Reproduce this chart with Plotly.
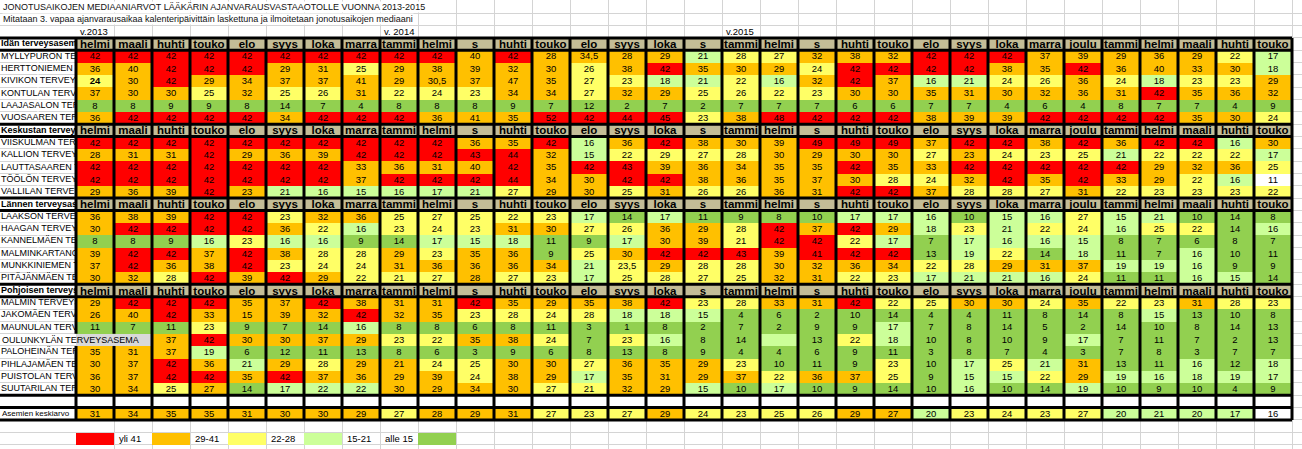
import plotly.graph_objects as go

# ---- data ----------------------------------------------------------------

TITLE = "JONOTUSAIKOJEN MEDIAANIARVOT LÄÄKÄRIN AJANVARAUSVASTAAOTOLLE VUONNA 2013-2015"
SUBTITLE = ("Mitataan 3. vapaa ajanvarausaikaa kalenteripäivittäin laskettuna "
            "ja ilmoitetaan jonotusaikojen mediaani")

MONTHS = ["helmi", "maali", "huhti", "touko", "elo", "syys", "loka", "marra",
          "tammi", "helmi", "s", "huhti", "touko", "elo", "syys", "loka", "s",
          "tammi", "helmi", "s", "huhti", "touko", "elo", "syys", "loka", "marra",
          "joulu", "tammi", "helmi", "maali", "huhti", "touko"]
YEAR_LABELS = ["v.2013", "v. 2014", "v.2015"]
YEAR_START_COLS = [0, 8, 17]

IDA_NAME = "Idän terveysasemat"
IDA_STATIONS = ["MYLLYPURON TERVEYSASEMA", "HERTTONIEMEN TERVEYSASEMA",
                "KIVIKON TERVEYSASEMA", "KONTULAN TERVEYSASEMA",
                "LAAJASALON TERVEYSASEMA", "VUOSAAREN TERVEYSASEMA"]
IDA_VALUES = [
    [42, 42, 42, 42, 42, 42, 42, 42, 42, 42, 40, 42, 28, 34.5, 28, 29, 21, 28, 27, 32, 38,
     32, 42, 42, 42, 37, 39, 29, 36, 29, 22, 17],
    [36, 40, 42, 42, 42, 29, 31, 25, 29, 38, 39, 32, 30, 26, 38, 42, 35, 30, 29, 24, 42,
     42, 42, 42, 38, 35, 42, 36, 40, 33, 30, 18],
    [24, 30, 42, 29, 34, 37, 37, 41, 29, 30.5, 37, 47, 35, 27, 23, 18, 21, 22, 16, 32, 42,
     37, 16, 21, 24, 26, 36, 24, 18, 23, 23, 29],
    [37, 30, 30, 25, 32, 25, 26, 31, 22, 24, 23, 34, 34, 27, 32, 29, 25, 26, 22, 23, 30,
     30, 35, 31, 30, 32, 36, 31, 42, 35, 36, 32],
    [8, 8, 9, 9, 8, 14, 7, 4, 8, 8, 8, 9, 7, 12, 2, 7, 2, 7, 7, 7, 6,
     6, 7, 7, 4, 6, 4, 8, 7, 7, 4, 9],
    [36, 42, 42, 42, 42, 34, 42, 42, 42, 36, 41, 35, 52, 42, 44, 45, 23, 38, 48, 42, 42,
     42, 38, 39, 39, 42, 42, 42, 42, 35, 30, 24],
]

KESKUSTA_NAME = "Keskustan terveysasemat"
KESKUSTA_STATIONS = ["VIISKULMAN TERVEYSASEMA", "KALLION TERVEYSASEMA",
                     "LAUTTASAAREN TERVEYSASEMA", "TÖÖLÖN TERVEYSASEMA",
                     "VALLILAN TERVEYSASEMA"]
KESKUSTA_VALUES = [
    [42, 42, 42, 42, 42, 42, 42, 42, 42, 42, 36, 35, 42, 16, 36, 42, 38, 30, 39, 49, 49,
     49, 37, 42, 42, 38, 42, 36, 42, 42, 16, 30],
    [28, 31, 31, 42, 29, 36, 39, 42, 42, 42, 43, 44, 32, 15, 22, 29, 27, 28, 30, 29, 30,
     30, 27, 23, 24, 23, 25, 21, 22, 22, 22, 17],
    [42, 42, 42, 42, 42, 42, 42, 33, 36, 31, 40, 42, 35, 42, 43, 39, 36, 34, 35, 35, 42,
     35, 33, 42, 42, 42, 42, 42, 29, 32, 36, 25],
    [42, 42, 42, 42, 42, 42, 42, 37, 42, 42, 42, 44, 34, 30, 42, 42, 38, 36, 35, 37, 30,
     28, 24, 32, 42, 35, 42, 33, 29, 22, 16, 11],
    [29, 36, 39, 42, 23, 21, 16, 15, 16, 17, 21, 27, 29, 30, 25, 31, 26, 26, 36, 31, 42,
     42, 37, 28, 28, 27, 31, 22, 23, 23, 23, 22],
]

LANSI_NAME = "Lännen terveysasemat"
LANSI_STATIONS = ["LAAKSON TERVEYSASEMA", "HAAGAN TERVEYSASEMA",
                  "KANNELMÄEN TERVEYSASEMA", "MALMINKARTANON TERVEYSASEMA",
                  "MUNKKINIEMEN TERVEYSASEMA", "PITÄJÄNMÄEN TERVEYSASEMA"]
LANSI_VALUES = [
    [36, 38, 39, 42, 42, 23, 32, 36, 25, 27, 25, 22, 23, 17, 14, 17, 11, 9, 8, 10, 17,
     17, 16, 10, 15, 16, 27, 15, 21, 10, 14, 8],
    [30, 42, 42, 42, 42, 36, 22, 16, 23, 24, 23, 31, 30, 27, 26, 36, 29, 28, 42, 37, 42,
     29, 18, 23, 21, 22, 24, 16, 25, 22, 14, 16],
    [8, 8, 9, 16, 23, 16, 16, 9, 14, 17, 15, 18, 11, 9, 17, 30, 39, 21, 42, 42, 22,
     17, 7, 17, 16, 16, 15, 8, 7, 6, 8, 7],
    [39, 42, 42, 37, 42, 38, 28, 28, 29, 23, 35, 36, 9, 25, 30, 42, 42, 43, 39, 41, 42,
     42, 13, 19, 22, 14, 18, 11, 7, 16, 10, 11],
    [37, 42, 36, 38, 42, 23, 24, 24, 31, 36, 36, 36, 34, 21, 23.5, 29, 28, 28, 30, 32, 36,
     34, 22, 28, 29, 31, 37, 19, 19, 16, 9, 9],
    [30, 32, 28, 42, 39, 42, 29, 22, 21, 27, 28, 27, 23, 17, 25, 28, 27, 25, 32, 31, 22,
     23, 17, 21, 21, 16, 24, 11, 11, 16, 15, 14],
]

POHJOINEN_NAME = "Pohjoisen terveysasemat"
POHJOINEN_STATIONS = ["MALMIN TERVEYSASEMA", "JAKOMÄEN TERVEYSASEMA",
                      "MAUNULAN TERVEYSASEMA", "OULUNKYLÄN TERVEYSASEMA",
                      "PALOHEINÄN TERVEYSASEMA", "PIHLAJAMÄEN TERVEYSASEMA",
                      "PUISTOLAN TERVEYSASEMA", "SUUTARILAN TERVEYSASEMA"]
POHJOINEN_VALUES = [
    [29, 42, 42, 42, 35, 37, 42, 38, 31, 31, 42, 35, 29, 35, 38, 42, 23, 28, 33, 31, 42,
     22, 25, 30, 30, 24, 35, 22, 23, 31, 28, 23],
    [26, 40, 42, 33, 15, 39, 32, 42, 32, 35, 23, 28, 24, 28, 18, 18, 15, 4, 6, 2, 10,
     14, 4, 4, 11, 8, 14, 8, 15, 13, 10, 8],
    [11, 7, 11, 23, 9, 7, 14, 16, 8, 8, 6, 8, 11, 3, 1, 8, 2, 7, 2, 9, 9,
     17, 7, 8, 14, 5, 2, 14, 10, 8, 14, 13],
    [None, None, 37, 42, 30, 30, 37, 29, 23, 22, 35, 38, 24, 7, 23, 16, 8, 14, None, 13, 22,
     18, 10, 8, 10, 9, 17, 7, 11, 7, 2, 13],
    [35, 31, 37, 19, 6, 12, 11, 13, 8, 6, 3, 9, 6, 8, 13, 8, 9, 4, 4, 6, 9,
     11, 3, 8, 7, 4, 3, 7, 8, 3, 7, 7],
    [30, 37, 42, 36, 21, 29, 28, 29, 21, 24, 25, 30, 30, 27, 36, 35, 29, 23, 10, 11, 9,
     23, 10, 17, 25, 21, 31, 13, 11, 16, 12, 18],
    [36, 37, 42, 42, 35, 42, 37, 36, 29, 39, 24, 38, 29, 17, 35, 31, 29, 37, 22, 36, 37,
     25, 9, 15, 15, 22, 29, 19, 16, 18, 19, 17],
    [30, 34, 25, 27, 14, 17, 22, 22, 30, 29, 34, 30, 27, 21, 32, 29, 15, 10, 17, 10, 9,
     14, 10, 16, 10, 14, 19, 10, 9, 10, 4, 9],
]

AVG_NAME = "Asemien keskiarvo"
AVG_VALUES = [31, 34, 35, 35, 31, 30, 30, 29, 27, 28, 29, 31, 27, 23, 27, 29, 24, 23, 25, 26, 29,
              27, 20, 23, 24, 23, 27, 20, 21, 20, 17, 16]

# classes of the legend, highest first
LEGEND_LABELS = ["yli 41", "29-41", "22-28", "15-21", "alle 15"]
LEGEND_LOWER = [42, 29, 22, 15, 0]

# cells whose fill in the sheet does not follow the legend
FILL_OVERRIDES = {
    "MYLLYPURON TERVEYSASEMA": {12: "orange", 14: "orange"},
    "KIVIKON TERVEYSASEMA": {11: "orange"},
    "KALLION TERVEYSASEMA": {0: "orange", 15: "yellow", 23: "orange"},
    "TÖÖLÖN TERVEYSASEMA": {31: "white"},
    "VALLILAN TERVEYSASEMA": {4: "orange"},
    "KANNELMÄEN TERVEYSASEMA": {17: "yellow"},
    "MALMINKARTANON TERVEYSASEMA": {19: "red"},
    "PITÄJÄNMÄEN TERVEYSASEMA": {8: "yellow", 10: "orange"},
    "JAKOMÄEN TERVEYSASEMA": {0: "orange", 4: "orange"},
    "OULUNKYLÄN TERVEYSASEMA": {18: "lightgreen"},
    "PIHLAJAMÄEN TERVEYSASEMA": {8: "orange"},
    "SUUTARILAN TERVEYSASEMA": {3: "orange", 6: "lightgreen", 7: "lightgreen", 13: "yellow"},
    AVG_NAME: {9: "orange", 21: "orange", 31: "white"},
}
BOLD_CELLS = {("KIVIKON TERVEYSASEMA", 0)}

GROUPS = [
    (IDA_NAME, IDA_STATIONS, IDA_VALUES),
    (KESKUSTA_NAME, KESKUSTA_STATIONS, KESKUSTA_VALUES),
    (LANSI_NAME, LANSI_STATIONS, LANSI_VALUES),
    (POHJOINEN_NAME, POHJOINEN_STATIONS, POHJOINEN_VALUES),
]

# ---- look ----------------------------------------------------------------

FIG_W, FIG_H = 1302, 449
LABEL_W = 76          # px, name column
COL_W = 38            # px, one month column
ROW_H = 12.32         # px, one sheet row
TOP_PAD = 1.0         # px above the first sheet row
FIRST_TABLE_ROW = 3
N_SHEET_ROWS = 36

FONT = "Liberation Sans, Arial, sans-serif"
CLASSES = ["green", "lightgreen", "yellow", "orange", "red", "white", "gray", "tan"]
COLORS = {"green": "#92D050", "lightgreen": "#CCFF99", "yellow": "#FFFF66",
          "orange": "#FFC000", "red": "#FF0000", "white": "#FFFFFF",
          "gray": "#D9D9D9", "tan": "#C4BD97"}
LEGEND_FILLS = ["red", "orange", "yellow", "lightgreen", "green"]


def fill_class(v):
    if v is None:
        return None
    for lower, cls in zip(LEGEND_LOWER, LEGEND_FILLS):
        if v >= lower:
            return cls
    return "green"


def fmt(v):
    if v is None:
        return ""
    if float(v).is_integer():
        return str(int(v))
    return f"{v:g}".replace(".", ",")


n_cols = len(MONTHS)
z_cells = [[None] * n_cols for _ in range(N_SHEET_ROWS)]
t_cells = [[""] * n_cols for _ in range(N_SHEET_ROWS)]
z_head = [[None] * n_cols for _ in range(N_SHEET_ROWS)]
t_head = [[""] * n_cols for _ in range(N_SHEET_ROWS)]

group_rows, station_rows, overflow_rows = [], [], []
hlines = set()
no_vline = set()   # (boundary, row) pairs hidden by overflowing text


def put_values(row, name, vals):
    over = FILL_OVERRIDES.get(name, {})
    lead = 0
    while lead < len(vals) and vals[lead] is None:
        lead += 1
    for c, v in enumerate(vals):
        cls = over.get(c, "gray" if c < lead else fill_class(v))
        if cls:
            z_cells[row][c] = CLASSES.index(cls)
        txt = fmt(v)
        if (name, c) in BOLD_CELLS:
            txt = f"<b>{txt}</b>"
        t_cells[row][c] = txt
    for b in range(lead):
        no_vline.add((b, row))
    return lead


r = FIRST_TABLE_ROW
for gname, stations, values in GROUPS:
    hlines.update([r - 0.5, r + 0.5])
    for c, m in enumerate(MONTHS):
        z_head[r][c] = CLASSES.index("tan")
        t_head[r][c] = m
    group_rows.append((r, gname))
    r += 1
    for st, vals in zip(stations, values):
        if put_values(r, st, vals):
            overflow_rows.append((r, st))
        else:
            station_rows.append((r, st))
        r += 1
    hlines.add(r - 0.5)

# empty separator row, then the average row
for c in range(n_cols):
    z_cells[r][c] = CLASSES.index("white")
hlines.update([r - 0.5, r + 0.5])
r += 1
put_values(r, AVG_NAME, AVG_VALUES)
avg_row = r
hlines.add(r + 0.5)
last_table_row = r

# legend row: colour box + label pairs
legend_row = r + 2
legend_slots = [(2 * i, 2 * i + 1) for i in range(len(LEGEND_LABELS) - 1)]
legend_slots.append((2 * len(LEGEND_LABELS) - 1, 2 * len(LEGEND_LABELS) - 2))
for (box_c, _), cls in zip(legend_slots, LEGEND_FILLS):
    z_cells[legend_row][box_c] = CLASSES.index(cls)

n = len(CLASSES)
colorscale = []
for i, cls in enumerate(CLASSES):
    colorscale += [[i / n, COLORS[cls]], [(i + 1) / n, COLORS[cls]]]

xs = list(range(n_cols))
ys = list(range(N_SHEET_ROWS))

fig = go.Figure()
fig.add_trace(go.Heatmap(
    x=xs, y=ys, z=z_cells, text=t_cells, texttemplate="%{text}",
    textfont=dict(family=FONT, size=9.5, color="black"),
    colorscale=colorscale, zmin=-0.5, zmax=n - 0.5, showscale=False, hoverinfo="skip"))
fig.add_trace(go.Heatmap(
    x=xs, y=ys, z=z_head, text=t_head, texttemplate="<b>%{text}</b>",
    textfont=dict(family=FONT, size=11.5, color="black"),
    colorscale=colorscale, zmin=-0.5, zmax=n - 0.5, showscale=False, hoverinfo="skip"))

# white background of the name column inside the table
table_rows = list(range(FIRST_TABLE_ROW, last_table_row + 1))
fig.add_trace(go.Heatmap(
    x=[LABEL_W / 2], y=table_rows, z=[[CLASSES.index("white")] for _ in table_rows],
    colorscale=colorscale, zmin=-0.5, zmax=n - 0.5, showscale=False, hoverinfo="skip",
    xaxis="x2", yaxis="y", dx=LABEL_W))

# names, clipped by the narrow name column like in the sheet
fig.add_trace(go.Scatter(
    x=[1] * len(station_rows), y=[s[0] for s in station_rows],
    text=[s[1] for s in station_rows], mode="text", textposition="middle right",
    textfont=dict(family=FONT, size=9, color="black"), cliponaxis=True,
    hoverinfo="skip", xaxis="x2", yaxis="y", showlegend=False))
fig.add_trace(go.Scatter(
    x=[1] * len(group_rows), y=[g[0] for g in group_rows],
    text=[f"<b>{g[1]}</b>" for g in group_rows], mode="text", textposition="middle right",
    textfont=dict(family=FONT, size=9, color="black"), cliponaxis=True,
    hoverinfo="skip", xaxis="x2", yaxis="y", showlegend=False))
fig.add_trace(go.Scatter(
    x=[2], y=[avg_row], text=[AVG_NAME], mode="text", textposition="middle right",
    textfont=dict(family=FONT, size=8, color="black"), cliponaxis=True,
    hoverinfo="skip", xaxis="x2", yaxis="y", showlegend=False))

annotations = [
    dict(text=TITLE, x=2 / FIG_W, y=0, xref="paper", yref="y", xanchor="left",
         showarrow=False, bgcolor="white", borderpad=0,
         font=dict(family=FONT, size=9, color="#111111")),
    dict(text=SUBTITLE, x=2 / FIG_W, y=1, xref="paper", yref="y", xanchor="left",
         showarrow=False, bgcolor="white", borderpad=0,
         font=dict(family=FONT, size=9, color="#111111")),
]
for lbl, c in zip(YEAR_LABELS, YEAR_START_COLS):
    annotations.append(dict(text=lbl, x=c - 0.45, y=2, xref="x", yref="y", xanchor="left",
                            showarrow=False, font=dict(family=FONT, size=9.5, color="black")))
for (_, txt_c), lbl in zip(legend_slots, LEGEND_LABELS):
    annotations.append(dict(text=lbl, x=txt_c - 0.42, y=legend_row, xref="x", yref="y",
                            xanchor="left", showarrow=False,
                            font=dict(family=FONT, size=9.5, color="black")))
for row, st in overflow_rows:
    annotations.append(dict(text=st, x=0, y=row, xref="x2", yref="y", xanchor="left",
                            showarrow=False, font=dict(family=FONT, size=9, color="black")))


# thick black cell borders of the table
def px_to_paper(col_boundary):
    return (LABEL_W + col_boundary * COL_W) / FIG_W


shapes = []
for b in range(n_cols + 1):
    run_start = None
    for row in table_rows + [None]:
        hidden = row is None or (b, row) in no_vline
        if not hidden and run_start is None:
            run_start = row
        if hidden and run_start is not None:
            end = row if row is not None else last_table_row + 1
            shapes.append(dict(type="line", xref="paper", yref="y",
                               x0=px_to_paper(b), x1=px_to_paper(b),
                               y0=run_start - 0.5, y1=end - 0.5,
                               line=dict(color="black", width=3)))
            run_start = None
for h in sorted(hlines):
    shapes.append(dict(type="line", xref="paper", yref="y", x0=0, x1=px_to_paper(n_cols),
                       y0=h, y1=h, line=dict(color="black", width=3)))

y_top = -0.5 - TOP_PAD / ROW_H
y_bottom = y_top + FIG_H / ROW_H
grid = "#D4D4D4"

fig.update_layout(
    width=FIG_W, height=FIG_H, margin=dict(l=0, r=0, t=0, b=0),
    paper_bgcolor="white", plot_bgcolor="white", showlegend=False,
    annotations=annotations, shapes=shapes,
    xaxis=dict(domain=[LABEL_W / FIG_W, 1], range=[-0.5, -0.5 + (FIG_W - LABEL_W) / COL_W],
               tickvals=[c - 0.5 for c in range(n_cols + 2)], showgrid=True, gridcolor=grid,
               gridwidth=1, showticklabels=False, ticks="", zeroline=False, fixedrange=True),
    xaxis2=dict(domain=[0, LABEL_W / FIG_W], range=[0, LABEL_W], anchor="y",
                showgrid=False, showticklabels=False, ticks="", zeroline=False, fixedrange=True),
    yaxis=dict(domain=[0, 1], range=[y_bottom, y_top],
               tickvals=[rr + 0.5 for rr in range(-1, N_SHEET_ROWS + 1)], showgrid=True,
               gridcolor=grid, gridwidth=1, showticklabels=False, ticks="", zeroline=False,
               fixedrange=True),
)

fig.write_html("out.html", config={"displayModeBar": False},
               post_script="document.body.style.margin='0px';document.body.style.overflow='hidden';")
